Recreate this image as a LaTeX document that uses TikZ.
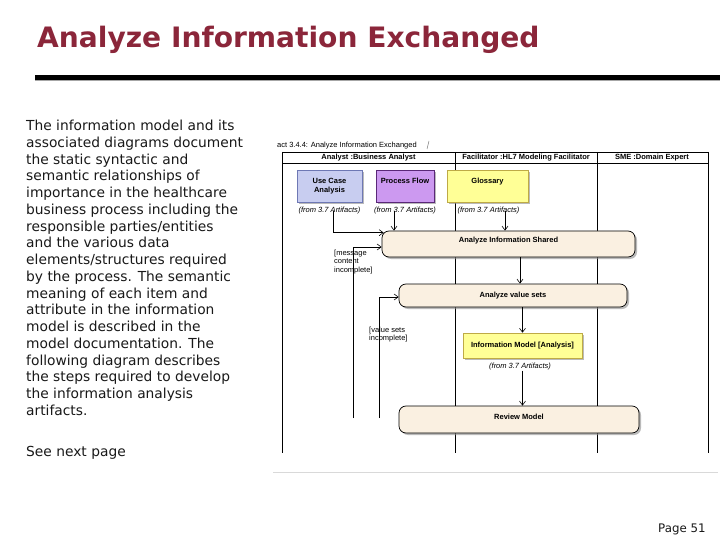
\documentclass[tikz,border=0pt]{standalone}
\usepackage{fontspec}
\setmainfont{DejaVu Sans}
\newfontfamily\diag{Liberation Sans}
\usetikzlibrary{arrows.meta,shadows,calc}
\definecolor{titlered}{RGB}{139,38,58}
\definecolor{bodyink}{RGB}{25,25,25}
\definecolor{ucfill}{RGB}{200,205,240}
\definecolor{ucdraw}{RGB}{110,120,180}
\definecolor{pffill}{RGB}{204,153,240}
\definecolor{pfdraw}{RGB}{90,40,120}
\definecolor{glfill}{RGB}{255,255,150}
\definecolor{gldraw}{RGB}{190,170,70}
\definecolor{actfill}{RGB}{250,240,225}
\begin{document}
\begin{tikzpicture}[x=1pt,y=-1pt,
  every node/.style={inner sep=0pt},
  bodytext/.style={font=\fontsize{13.8}{16.76}\selectfont, text=bodyink, anchor=base west},
  dtext/.style={font=\diag\fontsize{7.5}{8.5}\selectfont},
  dbold/.style={font=\diag\bfseries\fontsize{7.5}{9}\selectfont},
  shad/.style={drop shadow={shadow xshift=2pt,shadow yshift=-2pt,fill=black!45,opacity=0.6}},
  classbox/.style={draw, line width=0.6pt, dbold, align=center, shad},
  activity/.style={draw=black, line width=0.7pt, fill=actfill, rounded corners=7pt, dbold, shad},
  fromlbl/.style={font=\diag\itshape\fontsize{7.5}{9}\selectfont},
  flow/.style={draw=black, line width=0.6pt, -{Straight Barb[length=4pt,width=6pt]}},
  lane/.style={draw=black, line width=0.8pt},
]
\useasboundingbox (0,0) rectangle (720,540);
\fill[white] (0,0) rectangle (720,540);

% title and rule
\node[anchor=base west, font=\bfseries\fontsize{28.1}{30}\selectfont, text=titlered] (title) at (37,48) {Analyze Information Exchanged};
\draw[line width=4.5pt] (35,77.3) -- (720,77.3);
\draw[black!35, line width=1pt] (35,80.3) -- (720,80.3);

% body text
\foreach \t [count=\i] in {The information model and its,
  associated diagrams document,
  the static syntactic and,
  semantic relationships of,
  importance in the healthcare,
  business process including the,
  responsible parties/entities,
  and the various data,
  elements/structures required,
  by the process. The semantic,
  meaning of each item and,
  attribute in the information,
  model is described in the,
  model documentation. The,
  following diagram describes,
  the steps required to develop,
  the information analysis,
  artifacts.}
  \node[bodytext] (body\i) at (26,{130.5+16.76*(\i-1)}) {\t};
\node[bodytext] (seenext) at (26,456.5) {See next page};
\node[anchor=base west, font=\fontsize{11.8}{14}\selectfont, text=bodyink] (page) at (658,532.5) {Page 51};

% diagram frame and lanes
\draw[lane] (282.5,152) -- (282.5,453);
\draw[lane] (455,152) -- (455,453);
\draw[lane] (597,152) -- (597,453);
\draw[lane] (708,152) -- (708,453);
\draw[lane] (282.5,152) -- (708,152);
\draw[lane] (282.5,163) -- (708,163);
\draw[black!15, line width=1pt] (273,472) -- (718,472);

\node[dtext, anchor=west] (cap) at (277,146) {act 3.4.4: Analyze Information Exchanged};
\draw[black!50, line width=0.5pt] (427,149) -- (429,141);

\node[dbold] (h1) at (368.5,157.5) {Analyst :Business Analyst};
\node[dbold] (h2) at (526,157.5) {Facilitator :HL7 Modeling Facilitator};
\node[dbold] (h3) at (652,157.5) {SME :Domain Expert};

% artifacts
\node[classbox, fill=ucfill, draw=ucdraw, minimum width=65pt, minimum height=32pt] (uc) at (329.5,186) {Use Case\\[0.5pt]Analysis};
\node[classbox, fill=pffill, draw=pfdraw, minimum width=58pt, text height=13.2pt, text depth=18.8pt] (pf) at (405,186) {Process Flow};
\node[classbox, fill=glfill, draw=gldraw, minimum width=81pt, text height=13.2pt, text depth=18.8pt] (gl) at (487.5,186) {Glossary};
\node[fromlbl] (ucfrom) at (329.5,211) {(from 3.7 Artifacts)};
\node[fromlbl] (pffrom) at (405,211) {(from 3.7 Artifacts)};
\node[fromlbl] (glfrom) at (488.5,211) {(from 3.7 Artifacts)};

% activities
\node[activity, minimum width=253pt, text height=11.7pt, text depth=14.3pt] (ais) at (508.5,244) {Analyze Information Shared};
\node[activity, minimum width=228pt, minimum height=23pt] (avs) at (513,295.5) {Analyze value sets};
\node[classbox, fill=glfill, draw=gldraw, minimum width=119pt, minimum height=25pt] (im) at (522.5,345.5) {Information Model [Analysis]};
\node[fromlbl] (imfrom) at (520,367) {(from 3.7 Artifacts)};
\node[activity, minimum width=240pt, text height=13.7pt, text depth=13.3pt] (rm) at (519,419.5) {Review Model};

% guards
\node[dtext, anchor=west, align=left] (g1) at (334,262) {[message\\content\\incomplete]};
\node[dtext, anchor=west, align=left] (g2) at (369,334.5) {[value sets\\incomplete]};

% connectors
\coordinate (ucsrc) at ($(ucfrom.center)+(3.5,0)$);
\coordinate (pfsrc) at ($(pffrom.center)+(-11,0)$);
\coordinate (glsrc) at ($(glfrom.center)+(16.5,0)$);
\coordinate (aisout) at ($(ais.south)+(11.5,0)$);
\coordinate (msgsrc) at (353,418);
\coordinate (vssrc) at (379,418);
\draw[flow] (ucsrc) |- ($(ais.north west)+(2,2)$);
\draw[flow] (pfsrc) -- (pfsrc |- ais.north);
\draw[flow] (glsrc) -- (glsrc |- ais.north);
\draw[flow] (aisout) -- (aisout |- avs.north);
\draw[flow] (avs.south -| im.north) -- (im.north);
\draw[flow] (imfrom.south -| im.south) -- (im.south |- rm.north);
\draw[flow] (msgsrc) |- ($(ais.west)+(0,3)$);
\draw[flow] (vssrc) |- ($(avs.west)+(0,1.5)$);
\end{tikzpicture}
\end{document}
